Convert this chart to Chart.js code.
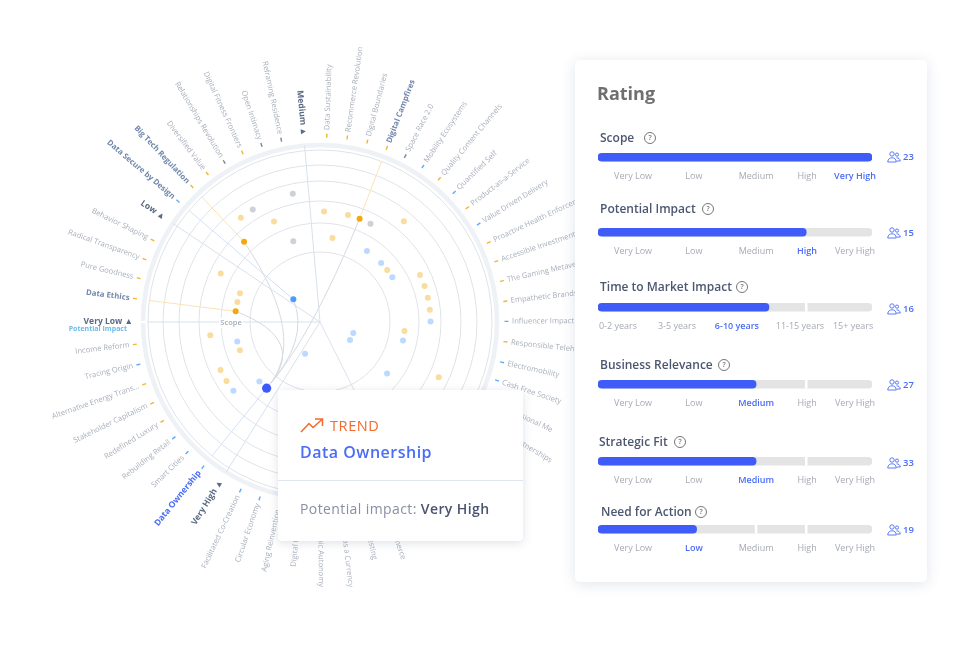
<!DOCTYPE html>
<html>
<head>
<meta charset="utf-8">
<script src="https://cdn.jsdelivr.net/npm/chart.js@4"></script>
<style>
  html, body { margin: 0; background: #fff; font-family: "Open Sans", sans-serif; }
  #stage { position: relative; width: 980px; height: 651px; overflow: hidden; }
  #radar { position: absolute; left: 0; top: 0; }
  #panel { position: absolute; left: 575px; top: 60px; width: 352px; height: 522px; background: #fff; border-radius: 5px;
           box-shadow: 0 2px 14px rgba(70, 90, 130, .16); }
  #rating { position: absolute; left: 597px; top: 80px; font-size: 18px; font-weight: 700; color: #6f6f6f; line-height: 26px; }
  .row-title { position: absolute; font-size: 12px; font-weight: 600; color: #4b5670; line-height: 16px; white-space: nowrap; }
  .help { position: absolute; width: 10px; height: 10px; border: 1px solid #777; border-radius: 50%; color: #777;
          font-size: 7px; font-weight: 600; line-height: 10px; text-align: center; }
  .bar { position: absolute; left: 588px; }
  .users { position: absolute; left: 887px; }
  .count { position: absolute; left: 903px; font-size: 9.5px; font-weight: 600; color: #4a6cf7; line-height: 12px; }
  #card { position: absolute; left: 278px; top: 390px; width: 245px; height: 151px; background: #fff; border-radius: 4px;
          box-shadow: 0 2px 10px rgba(70, 90, 130, .18); }
  #card svg { position: absolute; left: 22px; top: 27px; }
  #trend { position: absolute; left: 52px; top: 25px; font-size: 14.5px; font-weight: 500; color: #f26a2e; letter-spacing: .6px; line-height: 21px; }
  #name { position: absolute; left: 22px; top: 49px; font-size: 16px; font-weight: 600; color: #4a6cf7; letter-spacing: .5px; line-height: 26px; }
  #line { position: absolute; left: 0; right: 0; top: 90px; height: 1px; background: #dfe5ee; }
  #impact { position: absolute; left: 22px; top: 108px; font-size: 14px; color: #8a8ea3; letter-spacing: .4px; line-height: 22px; }
  #impact b { font-weight: 600; color: #4b5272; }
</style>
</head>
<body>
<div id="stage">
  <canvas id="radar" width="980" height="651"></canvas>
  <div id="panel"></div>
  <div id="rating">Rating</div>
  <div id="card">
    <svg width="26" height="18" viewBox="0 0 26 18" fill="none" stroke="#f26a2e" stroke-width="1.5">
      <path d="M1 15 L9 6.500 L13 10.500 L22 2.500 M15 2 L22.500 2 L22.500 9"/>
    </svg>
    <div id="trend">TREND</div>
    <div id="name">Data Ownership</div>
    <div id="line"></div>
    <div id="impact">Potential impact: <b>Very High</b></div>
  </div>
</div>
<script>
// trends around the radar, clockwise, angle in degrees from the right side
const trendNames = [
  "Data Ethics", "Pure Goodness", "Radical Transparency", "Behavior Shaping",
  "Data Secure by Design", "Big Tech Regulation", "Diversified Value", "Relationships Revolution",
  "Digital Fitness Frontiers", "Open Intimacy", "Reframing Residence",
  "Data Sustainability", "Recommerce Revolution", "Digital Boundaries", "Digital Campfires",
  "Space Race 2.0", "Mobility Ecosystems", "Quality Content Channels", "Quantified Self",
  "Product-as-a-Service", "Value Driven Delivery", "Proactive Health Enforcement",
  "Accessible Investments", "The Gaming Metaverse", "Empathetic Brands", "Influencer Impact",
  "Responsible Telehealth", "Electromobility", "Cash Free Society", "3-Dimensional Me",
  "Strategic Partnerships", "Voice Commerce", "Microinvesting", "Privacy as a Currency",
  "Economic Autonomy", "Digital Nomads", "Aging Reinvention", "Circular Economy",
  "Facilitated Co-Creation", "Data Ownership", "Smart Cities", "Rebuilding Retail",
  "Redefined Luxury", "Stakeholder Capitalism", "Alternative Energy Trans...", "Tracing Origin", "Income Reform"
];
const trendAngles = [
  187.2, 193.6, 199.7, 206.1,
  220.4, 226.6, 232.8, 239.1,
  245.4, 251.7, 258,
  272.1, 278.4, 284.7, 291,
  297.2, 303.5, 309.8, 316,
  322.2, 328.3, 334.8,
  341, 347.3, 353.6, 359.8,
  6.1, 12.5, 18.3, 25,
  31, 70.6, 77, 83.4,
  89.8, 96.2, 102.6, 108.9,
  115.3, 128.9, 135.5, 141.6,
  147.8, 154.2, 160.5, 166.8, 173.1
];
// null: the point sits under the card
const trendRadii = [
  85, 85, 85, 110.5,
  35, 110.5, 131, 131,
  110.5, 85, 131,
  110.5, 85, 110.5, 110.5,
  110.5, 85, 131, 85,
  85, 85, 110.5,
  110.5, 110.5, 110.5, 110.5,
  85, 85, 35, 131,
  35, null, null, null,
  null, null, null, null,
  35, 85, 85, 110.5,
  110.5, 110.5, 85, 85, 110.5
];
const trendKinds = [
  "amberHi", "amber", "amber", "amber",
  "skyHi", "amberHi", "amber", "grey",
  "amber", "grey", "grey",
  "amber", "amber", "amber", "amberHi",
  "grey", "sky", "amber", "sky",
  "amber", "sky", "amber",
  "amber", "amber", "amber", "sky",
  "amber", "sky", "sky", "amber",
  "sky", "amber", "amber", "sky",
  "sky", "grey", "grey", "sky",
  "sky", "blueHi", "sky", "sky",
  "amber", "amber", "amber", "sky", "amber"
];
// one more point whose label is hidden by the card
const extraAngles = [37.5];
const extraRadii = [84.5];

const ringRadii = [70, 99, 121, 141, 157, 172];
const outerRing = 177;
const spokeNames = ["Very Low", "Low", "Medium", "Very High"];
const spokeAngles = [180, 213.8, 265, 122];
const hiddenSpokeAngles = [63.4];
const selectedTrend = "Data Ownership";
const curveControl = { x: -10, y: 18 };

// rating panel
const ratingNames = ["Scope", "Potential Impact", "Time to Market Impact", "Business Relevance", "Strategic Fit", "Need for Action"];
const ratingValues = [100, 76, 62.4, 57.7, 57.7, 36];
const ratingVoters = [23, 15, 16, 27, 33, 19];
const ratingPicked = [4, 3, 2, 2, 2, 1];
const ratingBreaks = [[], [], [76], [76], [76], [57.7, 76]];
const levelLabels = ["Very Low", "Low", "Medium", "High", "Very High"];
const levelTicks = [12.8, 35, 57.7, 76.3, 93.8];
const timeLabels = ["0-2 years", "3-5 years", "6-10 years", "11-15 years", "15+ years"];
const timeTicks = [7.3, 28.8, 50.7, 73.7, 93.1];

// page layout of the rating rows
const barTops = [149, 224, 299, 376, 453, 521];
const titleLefts = [600, 600, 600, 600, 599, 601];
const titleTops = [130, 201, 279, 357, 434, 504];
const helpLefts = [644, 702, 736, 718, 674, 695];
const countTops = [151, 227, 303, 379, 457, 524];

const kindColors = { amber: "#fbdc9f", amberHi: "#f2a90c", sky: "#bcd9ff", skyHi: "#4a9bff", blueHi: "#3d5afe", grey: "#cdd1d8" };
const tickColors = { amber: "#f5b32f", amberHi: "#f5b32f", sky: "#5aa9ff", skyHi: "#5aa9ff", blueHi: "#5aa9ff", grey: "#75859c" };

function polar(angle, r) {
  const a = angle * Math.PI / 180;
  return { x: r * Math.cos(a), y: r * Math.sin(a) };
}

function pointsOfKind(kind) {
  const pts = [];
  trendNames.forEach((n, i) => {
    if (trendKinds[i] === kind && trendRadii[i] !== null) pts.push(polar(trendAngles[i], trendRadii[i]));
  });
  if (kind === "sky") extraAngles.forEach((a, i) => pts.push(polar(a, extraRadii[i])));
  return pts;
}

const radarFrame = {
  id: "radarFrame",
  beforeDatasetsDraw(chart) {
    const ctx = chart.ctx;
    const sx = chart.scales.x, sy = chart.scales.y;
    const px = p => ({ x: sx.getPixelForValue(p.x), y: sy.getPixelForValue(p.y) });
    const cen = px({ x: 0, y: 0 });
    const scale = sx.getPixelForValue(1) - sx.getPixelForValue(0);
    ctx.save();

    ctx.strokeStyle = "#dfe3e8";
    ctx.lineWidth = 1;
    ringRadii.forEach(r => {
      ctx.beginPath();
      ctx.arc(cen.x, cen.y, r * scale, 0, Math.PI * 2);
      ctx.stroke();
    });
    ctx.strokeStyle = "#eef1f5";
    ctx.lineWidth = 4.5;
    ctx.beginPath();
    ctx.arc(cen.x, cen.y, outerRing * scale, 0, Math.PI * 2);
    ctx.stroke();
    // small gap in the outer ring at Very Low
    const gap = px(polar(180, outerRing));
    ctx.fillStyle = "#fff";
    ctx.fillRect(gap.x - 4, gap.y - 1, 8, 2);

    ctx.strokeStyle = "#d8e1ea";
    ctx.lineWidth = 1;
    spokeAngles.concat(hiddenSpokeAngles).forEach(a => {
      const end = px(polar(a, a === 180 ? 172 : outerRing));
      ctx.beginPath();
      ctx.moveTo(cen.x, cen.y);
      ctx.lineTo(end.x, end.y);
      ctx.stroke();
    });

    // highlighted trends: leader to the rim and a curve to the selected one
    const sel = trendNames.indexOf(selectedTrend);
    const selPt = px(polar(trendAngles[sel], trendRadii[sel]));
    const ctrl = px(curveControl);
    trendNames.forEach((n, i) => {
      if (!trendKinds[i].endsWith("Hi")) return;
      const p = px(polar(trendAngles[i], trendRadii[i]));
      const rim = px(polar(trendAngles[i], 172));
      ctx.strokeStyle = trendKinds[i] === "amberHi" ? "#fbe3b6" : "#cfe2fb";
      ctx.lineWidth = 1;
      ctx.beginPath();
      ctx.moveTo(p.x, p.y);
      ctx.lineTo(rim.x, rim.y);
      ctx.stroke();
      if (i !== sel) {
        ctx.strokeStyle = "#d5dae1";
        ctx.beginPath();
        ctx.moveTo(p.x, p.y);
        ctx.quadraticCurveTo(ctrl.x, ctrl.y, selPt.x, selPt.y);
        ctx.stroke();
      }
    });

    // trend labels and their little ticks
    ctx.textBaseline = "middle";
    trendNames.forEach((n, i) => {
      const a = trendAngles[i];
      const kind = trendKinds[i];
      const t0 = px(polar(a, 184.5)), t1 = px(polar(a, 188.5));
      ctx.strokeStyle = tickColors[kind];
      ctx.lineWidth = 1.4;
      ctx.beginPath();
      ctx.moveTo(t0.x, t0.y);
      ctx.lineTo(t1.x, t1.y);
      ctx.stroke();
      drawRadial(ctx, px, n, a, 192, labelFont(n, kind), labelColor(n, kind));
    });

    // level names on the spokes
    spokeNames.forEach((n, i) => {
      drawRadial(ctx, px, n + " \u25B2", spokeAngles[i], 187, "700 8.5px 'Open Sans'", "#5a6a85");
    });

    const sub = px({ x: -193, y: 7 });
    ctx.font = "700 7px 'Open Sans'";
    ctx.fillStyle = "#6dbbea";
    ctx.textAlign = "right";
    ctx.fillText("Potential Impact", sub.x, sub.y);

    const sc = px({ x: -89, y: 1 });
    ctx.fillStyle = "#fff";
    ctx.fillRect(sc.x - 12, sc.y - 5, 24, 10);
    ctx.font = "600 7.5px 'Open Sans'";
    ctx.fillStyle = "#a3adbd";
    ctx.textAlign = "center";
    ctx.fillText("Scope", sc.x, sc.y);
    ctx.restore();
  }
};

function labelFont(name, kind) {
  if (name === selectedTrend) return "700 8.5px 'Open Sans'";
  return kind.endsWith("Hi") ? "700 7.8px 'Open Sans'" : "400 7.6px 'Open Sans'";
}

function labelColor(name, kind) {
  if (name === selectedTrend) return "#4a6cf7";
  return kind.endsWith("Hi") ? "#7187ab" : "#a8afbb";
}

function drawRadial(ctx, px, text, angle, r, font, color) {
  const p = px(polar(angle, r));
  const left = angle > 90 && angle < 270;
  ctx.save();
  ctx.translate(p.x, p.y);
  ctx.rotate((left ? angle - 180 : angle) * Math.PI / 180);
  ctx.font = font;
  ctx.fillStyle = color;
  ctx.textAlign = left ? "right" : "left";
  ctx.textBaseline = "middle";
  ctx.fillText(text, 0, 0);
  ctx.restore();
}

new Chart(document.getElementById("radar"), {
  type: "scatter",
  plugins: [radarFrame],
  data: {
    datasets: Object.keys(kindColors).map(kind => ({
      label: kind,
      data: pointsOfKind(kind),
      backgroundColor: kindColors[kind],
      borderWidth: 0,
      pointRadius: kind === "blueHi" ? 4.6 : 3
    }))
  },
  options: {
    responsive: false,
    animation: false,
    layout: { padding: 0, autoPadding: false },
    plugins: { legend: { display: false }, tooltip: { enabled: false } },
    scales: {
      x: { type: "linear", min: -320, max: 660, display: false },
      y: { type: "linear", min: -322, max: 329, reverse: true, display: false }
    }
  }
});

const stage = document.getElementById("stage");

function addRatingRow(i) {
  const title = document.createElement("div");
  title.className = "row-title";
  title.textContent = ratingNames[i];
  title.style.left = titleLefts[i] + "px";
  title.style.top = titleTops[i] + "px";
  stage.appendChild(title);

  const help = document.createElement("div");
  help.className = "help";
  help.textContent = "?";
  help.style.left = helpLefts[i] + "px";
  help.style.top = (titleTops[i] + 2) + "px";
  stage.appendChild(help);

  const canvas = document.createElement("canvas");
  canvas.className = "bar";
  canvas.width = 300;
  canvas.height = 33;
  canvas.style.top = barTops[i] + "px";
  stage.appendChild(canvas);

  const labels = i === 2 ? timeLabels : levelLabels;
  const ticks = i === 2 ? timeTicks : levelTicks;
  const breaks = ratingBreaks[i].map(b => ({
    data: [[b - 0.35, b + 0.35]],
    backgroundColor: "#fff",
    order: 0,
    barThickness: 8
  }));

  new Chart(canvas, {
    type: "bar",
    data: {
      labels: [ratingNames[i]],
      datasets: [
        { data: [[0, ratingValues[i]]], backgroundColor: "#3f5cf8", borderRadius: 4, borderSkipped: false, order: 1, barThickness: 8 },
        { data: [[0, 100]], backgroundColor: "#e4e4e4", borderRadius: 4, borderSkipped: false, order: 2, barThickness: 8 }
      ].concat(breaks)
    },
    options: {
      indexAxis: "y",
      responsive: false,
      animation: false,
      layout: { padding: { left: 10, right: 16, top: 0, bottom: 0 } },
      plugins: { legend: { display: false }, tooltip: { enabled: false } },
      datasets: { bar: { grouped: false } },
      scales: {
        y: { display: false },
        x: {
          type: "linear",
          min: 0,
          max: 100,
          border: { display: false },
          grid: { display: false, drawTicks: false },
          afterBuildTicks: s => { s.ticks = ticks.map(v => ({ value: v })); },
          afterFit: s => { s.paddingLeft = 0; s.paddingRight = 0; },
          ticks: {
            autoSkip: false,
            maxRotation: 0,
            padding: 6,
            callback: (v, k) => labels[k],
            color: c => c.index === ratingPicked[i] ? "#4a6cf7" : "#a6aab5",
            font: c => ({ family: "'Open Sans'", size: 9, weight: c.index === ratingPicked[i] ? "600" : "400" })
          }
        }
      }
    }
  });

  const users = document.createElementNS("http://www.w3.org/2000/svg", "svg");
  users.setAttribute("class", "users");
  users.setAttribute("width", "14");
  users.setAttribute("height", "12");
  users.setAttribute("viewBox", "0 0 14 12");
  users.style.top = countTops[i] + "px";
  users.innerHTML = '<g fill="none" stroke="#4a6cf7" stroke-width=".9"><circle cx="5" cy="3" r="2.2"/><circle cx="10" cy="3.6" r="1.6"/>' +
    '<path d="M.7 11 C1 7.800 3 6.800 5 6.800 C7.200 6.800 9 7.800 9.300 11 Z M9.500 6.800 C11.500 6.800 13 7.800 13.300 10 L9.800 10"/></g>';
  stage.appendChild(users);

  const count = document.createElement("div");
  count.className = "count";
  count.textContent = ratingVoters[i];
  count.style.top = countTops[i] + "px";
  stage.appendChild(count);
}

ratingNames.forEach((n, i) => addRatingRow(i));
</script>
</body>
</html>
